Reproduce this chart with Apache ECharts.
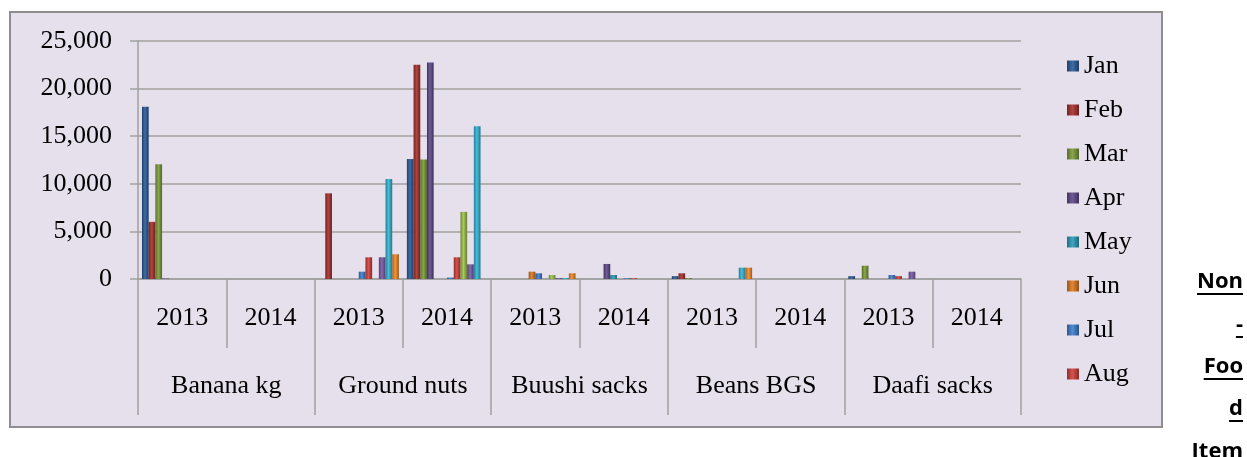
<!DOCTYPE html>
<html>
<head>
<meta charset="utf-8">
<script src="https://cdn.jsdelivr.net/npm/echarts@6/dist/echarts.min.js"></script>
<style>
  html, body { margin: 0; padding: 0; background: #fff; }
  #main { width: 1247px; height: 457px; }
</style>
</head>
<body>
<div id="main"></div>
<script>
// categories
const groups = ['Banana kg', 'Ground nuts', 'Buushi sacks', 'Beans BGS', 'Daafi sacks'];
const years = ['2013', '2014'];
const months = ['Jan', 'Feb', 'Mar', 'Apr', 'May', 'Jun', 'Jul', 'Aug', 'Sep', 'Oct', 'Nov', 'Dec'];
const legendMonths = ['Jan', 'Feb', 'Mar', 'Apr', 'May', 'Jun', 'Jul', 'Aug'];
const yTicks = [0, 5000, 10000, 15000, 20000, 25000];

// values per month, order: Banana13, Banana14, GN13, GN14, Buushi13, Buushi14, Beans13, Beans14, Daafi13, Daafi14
const jan = [18100, 0, 0, 12600, 0, 0, 300, 0, 300, 0];
const feb = [6000, 0, 9000, 22500, 0, 0, 600, 0, 0, 0];
const mar = [12050, 0, 0, 12550, 0, 0, 100, 0, 1400, 0];
const apr = [50, 0, 0, 22750, 0, 1580, 0, 0, 0, 0];
const may = [0, 0, 0, 0, 0, 420, 0, 0, 0, 0];
const jun = [0, 0, 0, 0, 770, 0, 0, 0, 0, 0];
const jul = [0, 0, 770, 150, 600, 80, 0, 0, 420, 0];
const aug = [0, 0, 2280, 2280, 0, 80, 0, 0, 300, 0];
const sep = [0, 0, 0, 7050, 420, 0, 0, 0, 0, 0];
const oct = [0, 0, 2280, 1540, 100, 0, 0, 0, 770, 0];
const nov = [0, 0, 10500, 16050, 100, 0, 1190, 0, 0, 0];
const dec = [0, 0, 2600, 0, 600, 0, 1190, 0, 0, 0];
const monthValues = [jan, feb, mar, apr, may, jun, jul, aug, sep, oct, nov, dec];

const colors = ['#2B5C9A', '#A8302C', '#7D9D3A', '#5F4A8B', '#2B9DBB', '#E07B20',
                '#3F7FCF', '#D0403C', '#9DC44A', '#7A5BA6', '#35B5D6', '#F08A2A'];

const yearCats = [];
groups.forEach(() => years.forEach(y => yearCats.push(y)));

function shade(hex, f) {
  let n = parseInt(hex.slice(1), 16);
  let r = (n >> 16) & 255, g = (n >> 8) & 255, b = n & 255;
  const m = v => Math.max(0, Math.min(255, Math.round(f < 0 ? v * (1 + f) : v + (255 - v) * f)));
  return 'rgb(' + m(r) + ',' + m(g) + ',' + m(b) + ')';
}

function barColor(c) {
  return new echarts.graphic.LinearGradient(0, 0, 1, 0, [
    { offset: 0, color: shade(c, -0.3) },
    { offset: 0.45, color: shade(c, 0.1) },
    { offset: 1, color: shade(c, -0.35) }
  ]);
}

const serif = 'Liberation Serif';
const grey = '#A0A0A0';

const series = months.map((m, i) => ({
  name: m,
  type: 'bar',
  xAxisIndex: 0,
  barGap: 0,
  barCategoryGap: '9%',
  itemStyle: { color: barColor(colors[i]) },
  data: monthValues[i]
}));

// side text (outside chart box), drawn line by line like the narrow Word column
const sideWords = ['Non', '-', 'Foo', 'd', 'Item'];
const sideBase = [290, 333, 375, 417, 460];
const sideSize = 22;
const ctx = document.createElement('canvas').getContext('2d');
ctx.font = 'bold ' + sideSize + 'px "Open Sans"';
const sideRight = 1243;
const graphics = [{
  type: 'rect',
  z: -10,
  shape: { x: 10, y: 12, width: 1152, height: 415 },
  style: { fill: '#E6E0EC', stroke: '#8E8E8E', lineWidth: 2 }
}];
sideWords.forEach((w, i) => {
  graphics.push({
    type: 'text',
    x: sideRight, y: sideBase[i] - 8,
    style: {
      text: w, fontSize: sideSize, fontWeight: 'bold', fontFamily: 'Open Sans',
      fill: '#000', align: 'right', verticalAlign: 'middle'
    }
  });
  if (w !== 'Item') {
    const tw = ctx.measureText(w).width;
    graphics.push({
      type: 'rect',
      shape: { x: sideRight - tw, y: sideBase[i] + 3, width: tw, height: 2 },
      style: { fill: '#000' }
    });
  }
});

const chart = echarts.init(document.getElementById('main'));
chart.setOption({
  animation: false,
  backgroundColor: '#fff',
  graphic: { elements: graphics },
  grid: { left: 138, top: 41, right: 226, bottom: 178, containLabel: false },
  legend: {
    data: legendMonths,
    orient: 'vertical',
    left: 1062,
    top: 48,
    icon: 'rect',
    itemWidth: 12,
    itemHeight: 11,
    itemGap: 18,
    textStyle: { fontFamily: serif, fontSize: 26, color: '#000', lineHeight: 26 }
  },
  xAxis: [{
    type: 'category',
    data: yearCats,
    position: 'bottom',
    axisLine: { lineStyle: { color: grey, width: 1.5 } },
    axisTick: { show: true, interval: 0, length: 69, lineStyle: { color: grey, width: 1.5 } },
    axisLabel: { interval: 0, margin: 39, verticalAlign: 'middle', fontFamily: serif, fontSize: 26, color: '#000' }
  }, {
    type: 'category',
    data: groups,
    position: 'bottom',
    axisLine: { show: false },
    axisTick: { show: true, interval: 0, length: 136, lineStyle: { color: grey, width: 1.5 } },
    axisLabel: { interval: 0, margin: 107, verticalAlign: 'middle', fontFamily: serif, fontSize: 26, color: '#000' }
  }],
  yAxis: {
    type: 'value',
    min: yTicks[0],
    max: yTicks[yTicks.length - 1],
    interval: 5000,
    axisLine: { show: true, lineStyle: { color: grey, width: 1.5 } },
    axisTick: { show: true, length: 8, lineStyle: { color: grey, width: 1.5 } },
    splitLine: { lineStyle: { color: grey, width: 1.5 } },
    axisLabel: {
      margin: 26,
      fontFamily: serif,
      fontSize: 26,
      color: '#000',
      formatter: v => v.toLocaleString('en-US')
    }
  },
  series: series
});
</script>
</body>
</html>
